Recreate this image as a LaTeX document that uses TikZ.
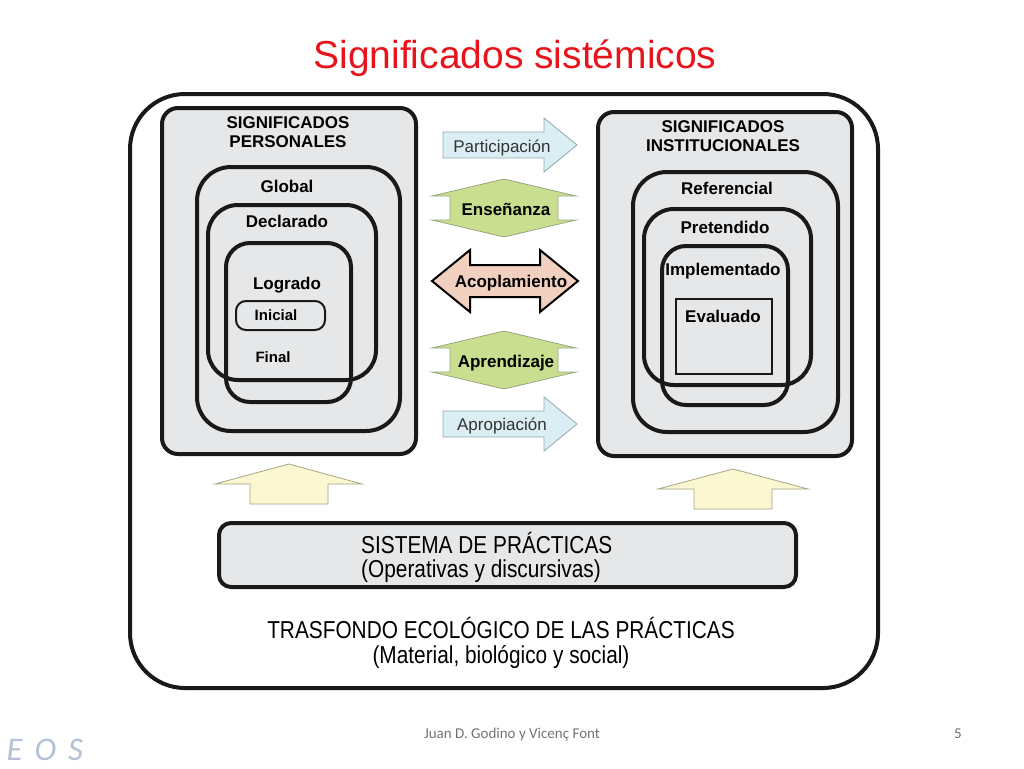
\documentclass[tikz,border=0pt]{standalone}
\usepackage{fontspec}
\setmainfont{Liberation Sans}
\newfontfamily\estrecha[FakeStretch=0.85]{Liberation Sans}
\newfontfamily\pie{Carlito}
\definecolor{gris}{HTML}{E6E7E8}
\definecolor{rojo}{HTML}{E8141B}
\definecolor{flechaazul}{HTML}{DAEEF3}
\definecolor{bordeazul}{HTML}{8EAAB2}
\definecolor{flechaverde}{HTML}{C9DE8E}
\definecolor{bordeverde}{HTML}{98A684}
\definecolor{salmon}{HTML}{F2D0C0}
\definecolor{amarillo}{HTML}{FBF7D0}
\definecolor{bordeamar}{HTML}{A8A48A}
\definecolor{logo}{HTML}{B4C0D4}
\begin{document}
\begin{tikzpicture}[x=1pt,y=-1pt,
  marco/.style={draw=black!90, fill=white, line width=4pt, rounded corners=55pt},
  bloque/.style={draw=black!90, fill=gris, line width=4pt, rounded corners=#1},
  anillo/.style={draw=black!90, line width=4pt, rounded corners=#1},
  etiq/.style={font=\fontsize{17}{19}\selectfont\bfseries, anchor=base, inner sep=0pt},
  texto/.style={font=\fontsize{17}{19}\selectfont, anchor=base, inner sep=0pt, text=black!80},
  fazul/.style={draw=bordeazul, fill=flechaazul, line width=0.8pt},
  fverde/.style={draw=bordeverde, fill=flechaverde, line width=0.8pt},
  facop/.style={draw=black, fill=salmon, line width=2pt},
  famar/.style={draw=bordeamar, fill=amarillo, line width=0.8pt}]
\useasboundingbox (0,0) rectangle (1024,768);

\node[anchor=base, text=rojo, font=\fontsize{39}{44}\selectfont] (titulo) at (515,68) {Significados sistémicos};

% marco del trasfondo
\node[marco, minimum width=748pt, minimum height=594pt] (trasfondo) at (504,391) {};

% significados personales
\node[bloque=16pt, minimum width=254pt, minimum height=346pt] (personales) at (289,281) {};
\node[etiq, anchor=center, align=center] (tpers) at (288,132.5) {SIGNIFICADOS\\PERSONALES};
\node[anillo=34pt, minimum width=203pt, minimum height=264pt] (global) at (298.5,299) {};
\node[anillo=30pt, minimum width=168pt, minimum height=175pt] (declarado) at (292,292.5) {};
\node[anillo=24pt, minimum width=125pt, minimum height=159pt] (logrado) at (288.5,322.5) {};
\node[anillo=10pt, line width=2pt, minimum width=89pt, minimum height=29pt] (inicial) at (280.5,315.5) {};
\node[etiq] (tglobal) at (287,192) {Global};
\node[etiq] (tdecl) at (287,227) {Declarado};
\node[etiq] (tlogr) at (287,289) {Logrado};
\node[etiq, font=\fontsize{15}{17}\selectfont\bfseries] (tinic) at (276,320.5) {Inicial};
\node[etiq, font=\fontsize{15}{17}\selectfont\bfseries] (tfinal) at (273,362.5) {Final};

% significados institucionales
\node[bloque=16pt, minimum width=254pt, minimum height=344pt] (institucionales) at (725,284) {};
\node[etiq, anchor=center, align=center] (tinst) at (723,136.5) {SIGNIFICADOS\\INSTITUCIONALES};
\node[anillo=34pt, minimum width=205pt, minimum height=260pt] (referencial) at (735.5,302) {};
\node[anillo=30pt, minimum width=167pt, minimum height=176pt] (pretendido) at (727.5,297) {};
\node[anillo=24pt, minimum width=126pt, minimum height=159pt] (implementado) at (725,325.5) {};
\node[draw=black!90, line width=2pt, minimum width=96pt, minimum height=75pt] (evaluado) at (724,336.5) {};
\node[etiq] (tref) at (727,194) {Referencial};
\node[etiq] (tpret) at (725,233) {Pretendido};
\node[etiq] (timpl) at (723,275) {Implementado};
\node[etiq] (teval) at (723,322) {Evaluado};

% flechas centrales
\draw[fazul, shift={(443,118)}] (0,14) -- (101,14) -- (101,0) -- (134,27) -- (101,54) -- (101,40) -- (0,40) -- cycle;
\draw[fverde, shift={(504,208)}] (-54,-12) -- (-72,-12) -- (0,-29) -- (72,-12) -- (54,-12) -- (54,12) -- (72,12) -- (0,29) -- (-72,12) -- (-54,12) -- cycle;
\draw[facop, shift={(505,281)}] (-73,0) -- (-35,-31) -- (-35,-16) -- (35,-16) -- (35,-31) -- (73,0) -- (35,31) -- (35,16) -- (-35,16) -- (-35,31) -- cycle;
\draw[fverde, shift={(504,360)}] (-54,-12) -- (-72,-12) -- (0,-29) -- (72,-12) -- (54,-12) -- (54,12) -- (72,12) -- (0,29) -- (-72,12) -- (-54,12) -- cycle;
\draw[fazul, shift={(443,397)}] (0,14) -- (101,14) -- (101,0) -- (134,27) -- (101,54) -- (101,40) -- (0,40) -- cycle;
\node[texto] (participacion) at (502,152) {Participación};
\node[etiq] (ensenanza) at (506,215) {Enseñanza};
\node[etiq] (acoplamiento) at (511,287) {Acoplamiento};
\node[etiq] (aprendizaje) at (506,367) {Aprendizaje};
\node[texto] (apropiacion) at (502,430) {Apropiación};

% flechas desde las practicas
\draw[famar] (250,504) -- (250,484) -- (215,484) -- (289,464) -- (362,484) -- (328,484) -- (328,504) -- cycle;
\draw[famar] (694,509) -- (694,489) -- (658,489) -- (733,469) -- (808,489) -- (772,489) -- (772,509) -- cycle;

% sistema de practicas
\node[bloque=12pt, minimum width=577pt, minimum height=64pt] (practicas) at (507.5,555) {};
\node[anchor=west, align=left, inner sep=0pt, font=\estrecha\fontsize{24.5}{24}\selectfont] (tprac) at (361,557) {SISTEMA DE PRÁCTICAS\\(Operativas y discursivas)};
\node[align=center, inner sep=0pt, font=\estrecha\fontsize{24.5}{25}\selectfont] (ttrasf) at (501,643) {TRASFONDO ECOLÓGICO DE LAS PRÁCTICAS\\(Material, biológico y social)};

% pie
\node[anchor=base, text=black!55, font=\pie\fontsize{15}{17}\selectfont] (autores) at (512,738) {Juan D. Godino y Vicenç Font};
\node[anchor=base, text=black!55, font=\pie\fontsize{15}{17}\selectfont] (pagina) at (958,738) {5};
\node[anchor=base west, text=logo, font=\pie\itshape\fontsize{33}{36}\selectfont] (eos) at (3,760) {E\hspace{12pt}O\hspace{12pt}S};
\end{tikzpicture}
\end{document}
